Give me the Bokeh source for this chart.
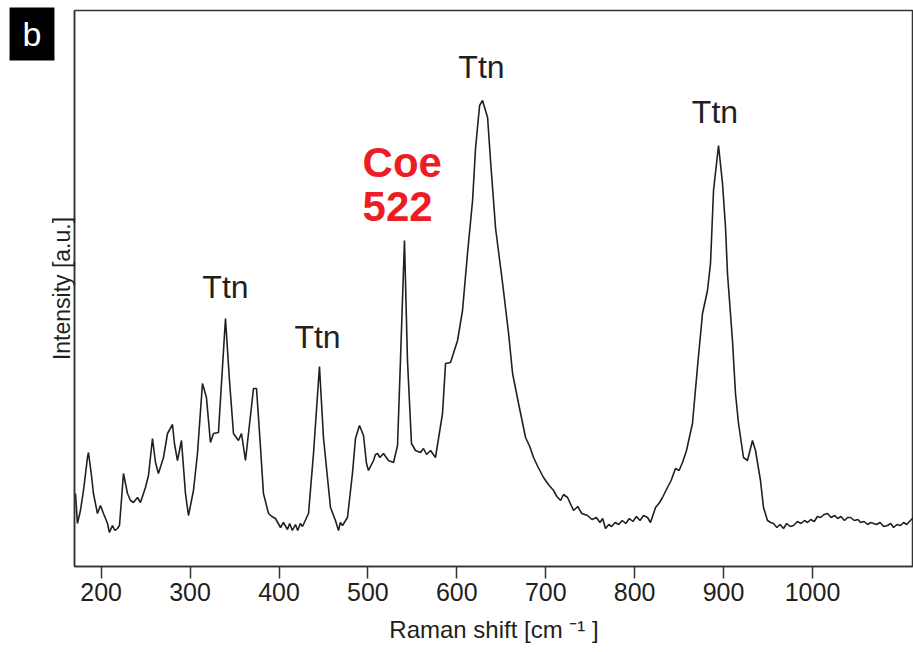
from bokeh.plotting import figure
from bokeh.models import Range1d, FixedTicker, Label
from bokeh.core.properties import value
from bokeh.embed import file_html
from bokeh.resources import INLINE

# Raman spectrum
wavenumber = [171.1, 173.3, 176.7, 180.1, 184.6, 185.7, 189.1, 191.3, 195.8, 199.2,
              202.6, 207.1, 209.3, 212.7, 215.5, 218.3, 220.6, 225.1, 229.6, 233.0,
              236.3, 240.8, 244.2, 249.8, 253.2, 257.7, 261.1, 264.4, 270.1, 274.6,
              280.2, 282.4, 285.8, 290.3, 294.8, 298.2, 303.8, 308.3, 313.9, 318.4,
              322.9, 326.3, 331.9, 339.8, 344.3, 348.8, 354.4, 357.8, 362.3, 371.3,
              374.7, 379.2, 382.5, 388.2, 392.0, 396.0, 401.7, 405.0, 409.5, 412.0,
              415.0, 418.5, 421.0, 424.0, 426.4, 433.2, 438.8, 445.5, 450.0, 454.5,
              457.9, 463.5, 465.5, 466.9, 469.0, 471.4, 477.0, 482.6, 486.0, 490.5,
              495.0, 498.4, 500.6, 506.3, 508.5, 510.8, 513.5, 517.5, 523.1, 528.8,
              533.3, 536.6, 541.1, 544.5, 549.0, 553.5, 559.1, 562.5, 566.0, 570.4,
              576.0, 579.4, 583.9, 587.3, 592.9, 600.8, 606.4, 612.0, 617.7, 621.1,
              625.6, 628.9, 634.6, 637.9, 643.6, 651.5, 658.2, 662.7, 669.4, 677.3,
              682.0, 686.3, 691.0, 697.5, 703.0, 708.8, 712.5, 716.7, 720.0, 724.5,
              731.3, 736.0, 740.5, 747.0, 752.0, 757.0, 761.0, 764.0, 767.2, 771.0,
              774.0, 778.0, 782.0, 786.0, 790.0, 794.0, 798.0, 802.0, 806.0, 810.0,
              814.5, 817.8, 823.5, 828.0, 831.3, 836.9, 841.0, 845.9, 850.0, 853.8,
              858.3, 865.0, 870.6, 876.3, 881.9, 885.3, 888.7, 894.3, 898.8, 902.2,
              904.4, 910.0, 913.4, 916.8, 922.4, 926.9, 932.5, 935.9, 941.5, 944.9,
              949.4, 953.0, 956.2, 960.0, 963.5, 967.4, 971.0, 975.0, 978.7, 983.0,
              987.0, 991.0, 994.4, 998.0, 1002.0, 1005.5, 1009.1, 1013.0, 1016.9, 1021.0,
              1025.0, 1028.2, 1032.0, 1036.0, 1039.5, 1042.8, 1047.0, 1051.0, 1054.1, 1058.0,
              1062.0, 1065.5, 1068.7, 1072.0, 1076.0, 1080.0, 1084.4, 1088.0, 1091.2, 1095.0,
              1099.0, 1102.4, 1106.0, 1110.0, 1113.7]
intensity = [73, 43, 56, 76, 109, 114, 91, 73, 53, 61,
             53, 43, 34, 41, 36, 38, 41, 93, 73, 66,
             64, 69, 64, 79, 91, 128, 104, 93, 109, 133,
             142, 123, 106, 126, 73, 51, 76, 113, 183, 169,
             124, 133, 134, 248, 186, 133, 126, 133, 106, 178,
             178, 119, 73, 53, 50, 48, 39, 44, 37, 43,
             36, 42, 36, 43, 40, 53, 113, 200, 129, 89,
             59, 46, 40, 36, 44, 41, 49, 93, 128, 141,
             131, 103, 96, 106, 112, 113, 109, 113, 106, 104,
             121, 206, 326, 206, 123, 116, 114, 118, 112, 116,
             109, 128, 153, 203, 204, 226, 256, 313, 366, 419,
             461, 466, 449, 406, 338, 283, 233, 193, 163, 129,
             120, 109, 100, 89, 82, 76, 70, 66, 72, 69,
             56, 60, 53, 51, 47, 49, 44, 48, 38, 42,
             40, 44, 42, 46, 43, 48, 45, 50, 46, 51,
             49, 44, 59, 64, 69, 79, 86, 98, 96, 104,
             116, 143, 199, 253, 276, 303, 376, 421, 383, 339,
             293, 226, 173, 143, 109, 106, 126, 116, 86, 59,
             46, 44, 43, 39, 42, 38, 43, 40, 41, 45,
             43, 46, 44, 47, 45, 50, 49, 52, 53, 49,
             51, 48, 50, 46, 49, 49, 46, 47, 44, 45,
             42, 44, 43, 42, 44, 40, 41, 43, 39, 42,
             41, 44, 42, 46, 49]

# peak labels
label_x = [339.8, 443.3, 627.7, 890.3]
label_y = [280, 230, 500, 455]
label_text = ["Ttn", "Ttn", "Ttn", "Ttn"]
coe_x = [494.0, 494.0]
coe_y = [404, 360]
coe_text = ["Coe", "522"]

x_ticks = [200, 300, 400, 500, 600, 700, 800, 900, 1000]

FONT = "Liberation Sans"
INK = "#231f20"

p = figure(width=913, height=652, output_backend="svg", toolbar_location=None,
           x_range=Range1d(170.0, 1113.6), y_range=Range1d(0, 556),
           min_border_left=74, min_border_right=0, min_border_top=10,
           min_border_bottom=86, background_fill_color="white",
           border_fill_color="white")
p.grid.visible = False
p.outline_line_color = "#333333"
p.outline_line_width = 1.5

p.line(wavenumber, intensity, line_color=INK, line_width=1.6)

p.text(x=label_x, y=label_y, text=label_text, text_font=value(FONT),
       text_font_size="32px", text_align="center", text_baseline="alphabetic",
       text_color=INK)
p.text(x=coe_x, y=coe_y, text=coe_text, text_font=value(FONT),
       text_font_size="42px", text_font_style="bold", text_align="left",
       text_baseline="alphabetic", text_color="#ee1c25")

xa = p.xaxis[0]
xa.ticker = FixedTicker(ticks=x_ticks)
xa.axis_label = "Raman shift [cm \u207b\u00b9 ]"
xa.axis_label_text_font = FONT
xa.axis_label_text_font_size = "24px"
xa.axis_label_text_font_style = "normal"
xa.axis_label_text_color = INK
xa.axis_label_standoff = 12
xa.major_label_text_font = FONT
xa.major_label_text_font_size = "25px"
xa.major_label_text_color = INK
xa.major_label_standoff = 4
xa.major_tick_out = 12
xa.major_tick_in = 0
xa.major_tick_line_color = "#333333"
xa.major_tick_line_width = 1.5
xa.minor_tick_line_color = None
xa.axis_line_color = "#333333"
xa.axis_line_width = 1.5

ya = p.yaxis[0]
ya.ticker = FixedTicker(ticks=[])
ya.axis_label = "Intensity [a.u.]"
ya.axis_label_text_font = FONT
ya.axis_label_text_font_size = "23px"
ya.axis_label_text_font_style = "normal"
ya.axis_label_text_color = INK
ya.axis_label_standoff = 0
ya.major_tick_out = 0
ya.major_tick_in = 0
ya.major_label_standoff = 0
ya.minor_tick_out = 0
ya.minor_tick_line_color = None
ya.major_tick_line_color = None
ya.axis_line_color = "#333333"
ya.axis_line_width = 1.5

# panel letter, drawn in the left border (annotations in the centre are clipped)
panel = Label(x=122.2, y=532.5, x_units="data", y_units="data", text="b",
              text_font=FONT, text_font_size="34px", text_color="white",
              text_align="center", text_baseline="middle",
              background_fill_color="black",
              padding=dict(left=13, right=13, top=7, bottom=8))
p.add_layout(panel, "left")

open("out.html", "w").write(file_html(p, INLINE))
